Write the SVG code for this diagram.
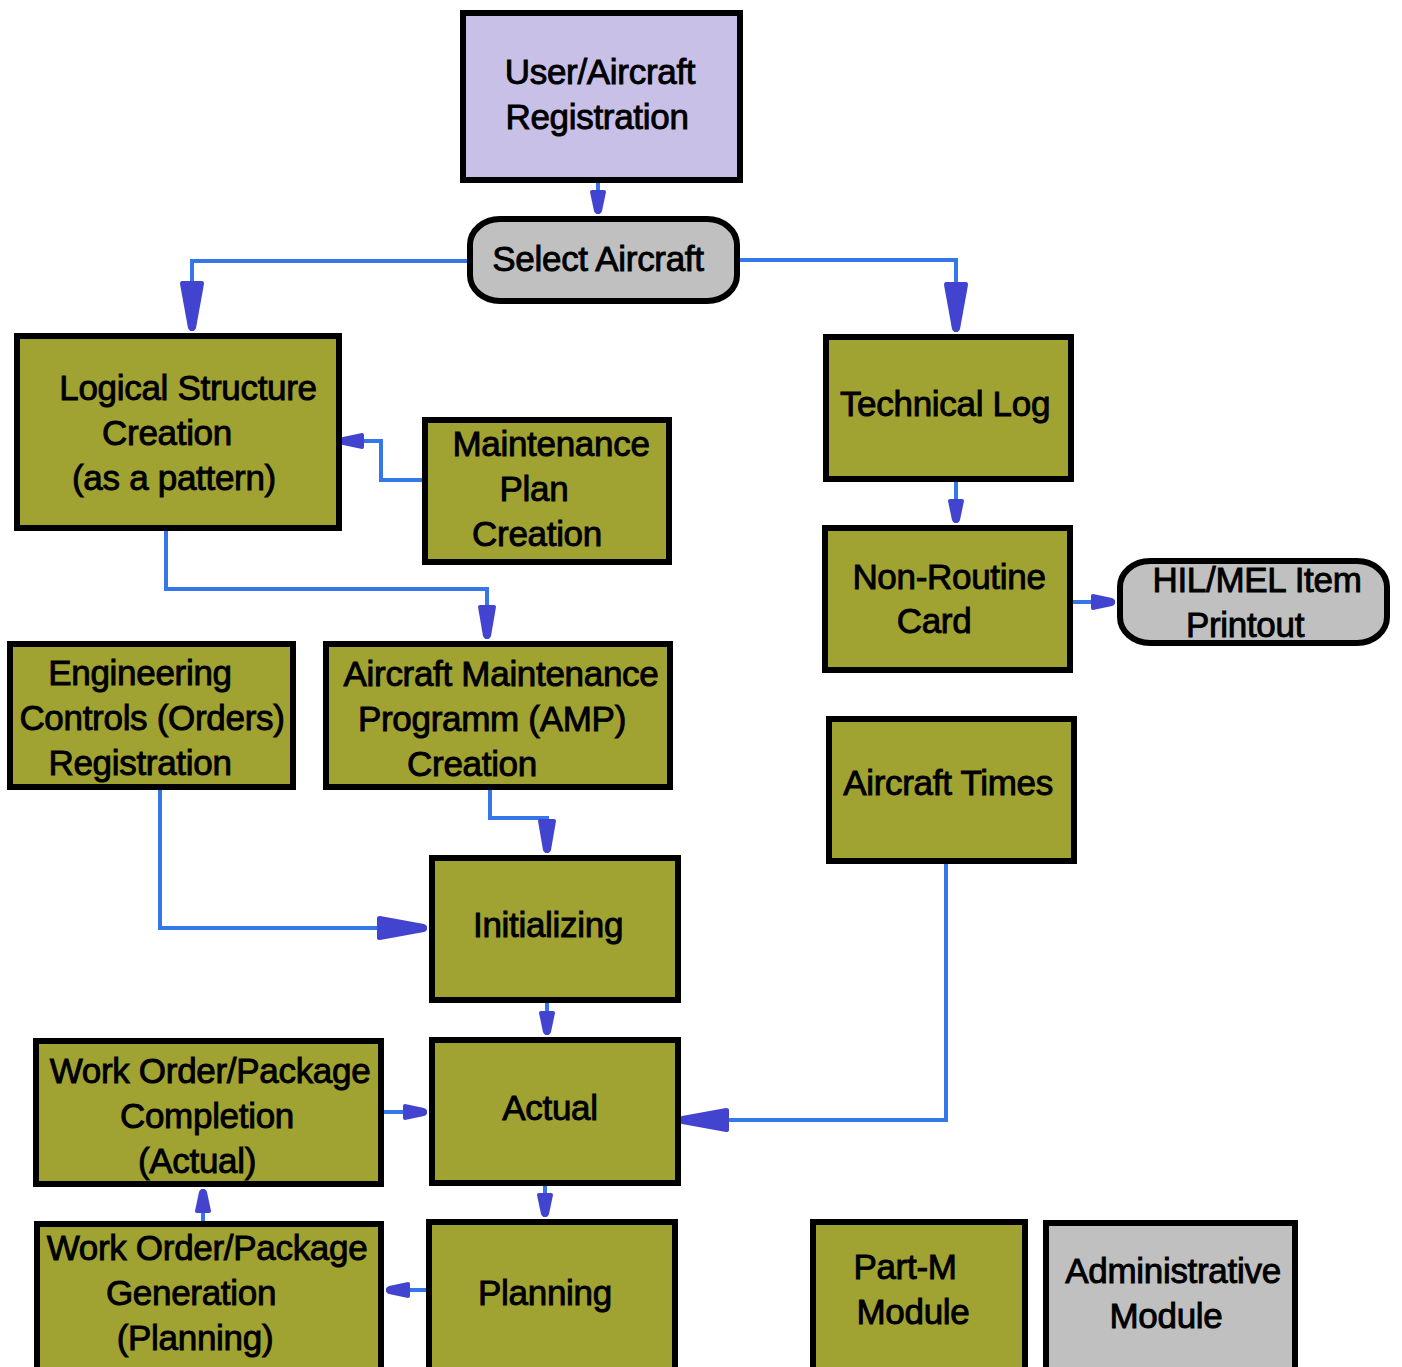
<svg xmlns="http://www.w3.org/2000/svg" width="1402" height="1367" viewBox="0 0 1402 1367">
  <style>
    .box { stroke: #000; stroke-width: 6; }
    .olive { fill: #a0a232; }
    .lav { fill: #c8c0e6; }
    .grey { fill: #c0c0c0; }
    .lbl { font-family: "Liberation Sans", Arial, sans-serif; font-size: 35px; letter-spacing: -0.3px; fill: #000; stroke: #000; stroke-width: 0.9; text-anchor: middle; }
    .wire { fill: none; stroke: #3576ea; stroke-width: 4; stroke-linejoin: miter; }
  </style>
  <defs>
    <marker id="arrowL" markerUnits="userSpaceOnUse" markerWidth="60" markerHeight="30" viewBox="-52 -15 54 30" refX="0" refY="0" orient="auto">
      <path d="M-50,-10 Q-50,-12 -47,-12 L-3,-4 Q0,-3 0,0 Q0,3 -3,4 L-47,12 Q-50,12 -50,10 Z" fill="#4244cf"/>
    </marker>
    <marker id="arrowM" markerUnits="userSpaceOnUse" markerWidth="40" markerHeight="24" viewBox="-36 -12 38 24" refX="0" refY="0" orient="auto">
      <path d="M-34,-7 Q-34,-9 -32,-9 L-3,-4 Q0,-3 0,0 Q0,3 -3,4 L-32,9 Q-34,9 -34,7 Z" fill="#4244cf"/>
    </marker>
    <marker id="arrowS" markerUnits="userSpaceOnUse" markerWidth="30" markerHeight="20" viewBox="-26 -10 28 20" refX="0" refY="0" orient="auto">
      <path d="M-24,-6 Q-24,-8 -22,-8 L-3,-4 Q0,-3 0,0 Q0,3 -3,4 L-22,8 Q-24,8 -24,6 Z" fill="#4244cf"/>
    </marker>
  </defs>
  <rect width="1402" height="1367" fill="#fff"/>

  <!-- connectors -->
  <g id="connectors">
    <path class="wire" d="M598,183 V214" marker-end="url(#arrowS)"/>
    <path class="wire" d="M467,261 H192 V331" marker-end="url(#arrowL)"/>
    <path class="wire" d="M740,260 H956 V332" marker-end="url(#arrowL)"/>
    <path class="wire" d="M422,480 H381 V441 H340" marker-end="url(#arrowS)"/>
    <path class="wire" d="M166,531 V589 H487 V639" marker-end="url(#arrowM)"/>
    <path class="wire" d="M160,790 V928 H427" marker-end="url(#arrowL)"/>
    <path class="wire" d="M490,790 V818 H547 V853" marker-end="url(#arrowM)"/>
    <path class="wire" d="M956,482 V523" marker-end="url(#arrowS)"/>
    <path class="wire" d="M1073,602 H1115" marker-end="url(#arrowS)"/>
    <path class="wire" d="M547,1003 V1035" marker-end="url(#arrowS)"/>
    <path class="wire" d="M946,864 V1120 H679" marker-end="url(#arrowL)"/>
    <path class="wire" d="M384,1112 H427" marker-end="url(#arrowS)"/>
    <path class="wire" d="M545,1186 V1217" marker-end="url(#arrowS)"/>
    <path class="wire" d="M426,1290 H386" marker-end="url(#arrowS)"/>
    <path class="wire" d="M203,1221 V1189" marker-end="url(#arrowS)"/>
  </g>

  <g id="user-aircraft-registration">
    <rect class="box lav" x="463" y="13" width="277" height="167"/>
    <text class="lbl" x="600" y="84">User/Aircraft</text>
    <text class="lbl" x="597" y="129">Registration</text>
  </g>

  <g id="select-aircraft">
    <rect class="box grey" x="470" y="219" width="267" height="82" rx="30" ry="26"/>
    <text class="lbl" x="598" y="271">Select Aircraft</text>
  </g>

  <g id="logical-structure">
    <rect class="box olive" x="17" y="336" width="322" height="192"/>
    <text class="lbl" x="188" y="400">Logical Structure</text>
    <text class="lbl" x="167" y="445">Creation</text>
    <text class="lbl" x="174" y="490">(as a pattern)</text>
  </g>

  <g id="maintenance-plan">
    <rect class="box olive" x="425" y="420" width="244" height="142"/>
    <text class="lbl" x="551" y="456">Maintenance</text>
    <text class="lbl" x="534" y="501">Plan</text>
    <text class="lbl" x="537" y="546">Creation</text>
  </g>

  <g id="technical-log">
    <rect class="box olive" x="826" y="337" width="245" height="142"/>
    <text class="lbl" x="945" y="416">Technical Log</text>
  </g>

  <g id="non-routine-card">
    <rect class="box olive" x="825" y="528" width="245" height="142"/>
    <text class="lbl" x="949" y="589">Non-Routine</text>
    <text class="lbl" x="934" y="633">Card</text>
  </g>

  <g id="hil-mel-printout">
    <rect class="box grey" x="1120" y="561" width="267" height="82" rx="30" ry="26"/>
    <text class="lbl" x="1257" y="592">HIL/MEL Item</text>
    <text class="lbl" x="1245" y="637">Printout</text>
  </g>

  <g id="engineering-controls">
    <rect class="box olive" x="10" y="644" width="283" height="143"/>
    <text class="lbl" x="140" y="685">Engineering</text>
    <text class="lbl" x="152" y="730">Controls (Orders)</text>
    <text class="lbl" x="140" y="775">Registration</text>
  </g>

  <g id="amp-creation">
    <rect class="box olive" x="326" y="644" width="344" height="143"/>
    <text class="lbl" x="501" y="686">Aircraft Maintenance</text>
    <text class="lbl" x="492" y="731">Programm (AMP)</text>
    <text class="lbl" x="472" y="776">Creation</text>
  </g>

  <g id="aircraft-times">
    <rect class="box olive" x="829" y="719" width="245" height="142"/>
    <text class="lbl" x="948" y="795">Aircraft Times</text>
  </g>

  <g id="initializing">
    <rect class="box olive" x="432" y="858" width="246" height="142"/>
    <text class="lbl" x="548" y="937">Initializing</text>
  </g>

  <g id="actual">
    <rect class="box olive" x="432" y="1040" width="246" height="143"/>
    <text class="lbl" x="550" y="1120">Actual</text>
  </g>

  <g id="wo-completion">
    <rect class="box olive" x="36" y="1041" width="345" height="143"/>
    <text class="lbl" x="210" y="1083">Work Order/Package</text>
    <text class="lbl" x="207" y="1128">Completion</text>
    <text class="lbl" x="197" y="1173">(Actual)</text>
  </g>

  <g id="wo-generation">
    <rect class="box olive" x="37" y="1224" width="344" height="146"/>
    <text class="lbl" x="207" y="1260">Work Order/Package</text>
    <text class="lbl" x="191" y="1305">Generation</text>
    <text class="lbl" x="195" y="1350">(Planning)</text>
  </g>

  <g id="planning">
    <rect class="box olive" x="429" y="1222" width="246" height="148"/>
    <text class="lbl" x="545" y="1305">Planning</text>
  </g>

  <g id="part-m-module">
    <rect class="box olive" x="813" y="1222" width="212" height="148"/>
    <text class="lbl" x="905" y="1279">Part-M</text>
    <text class="lbl" x="913" y="1324">Module</text>
  </g>

  <g id="administrative-module">
    <rect class="box grey" x="1046" y="1223" width="249" height="147"/>
    <text class="lbl" x="1173" y="1283">Administrative</text>
    <text class="lbl" x="1166" y="1328">Module</text>
  </g>
</svg>
